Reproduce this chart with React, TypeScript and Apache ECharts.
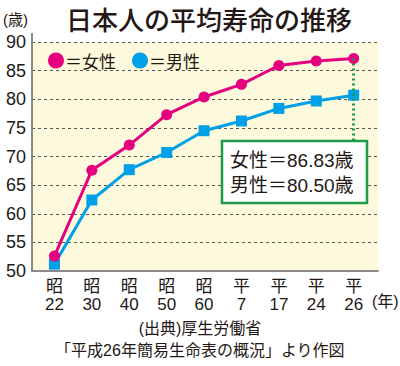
import React, { useEffect, useRef } from "react";
import * as echarts from "echarts";

const eraLabels = ["昭", "昭", "昭", "昭", "昭", "平", "平", "平", "平"];
const yearLabels = ["22", "30", "40", "50", "60", "7", "17", "24", "26"];
const femaleValues = [52.6, 67.6, 72.0, 77.3, 80.4, 82.6, 85.9, 86.7, 87.1];
const maleValues = [51.2, 62.4, 67.7, 70.7, 74.5, 76.2, 78.4, 79.7, 80.7];
const yTicks = [50, 55, 60, 65, 70, 75, 80, 85, 90];
const femaleName = "女性";
const maleName = "男性";
const boxLines = ["女性＝86.83歳", "男性＝80.50歳"];
const titleText = "日本人の平均寿命の推移";
const sourceLines = ["(出典)厚生労働省", "「平成26年簡易生命表の概況」より作図"];

const JP = "'Noto Sans CJK JP', sans-serif";
const FONT = "'Liberation Sans', 'Noto Sans CJK JP', sans-serif";
const PINK = "#e4007f";
const BLUE = "#00a0e9";
const GREEN = "#1e9b47";
const TEXT = "#231815";

export default function App() {
  const ref = useRef<HTMLDivElement>(null);
  useEffect(() => {
    if (!ref.current) return;
    const chart = echarts.init(ref.current, undefined, { renderer: "svg" });
    const idx = yearLabels.map((_, i) => i);
    chart.setOption({
      animation: false,
      textStyle: { fontFamily: FONT, color: TEXT },
      title: {
        text: titleText,
        left: 61,
        top: 0,
        textStyle: { fontFamily: JP, fontSize: 26, fontWeight: 500, color: TEXT },
      },
      legend: {
        left: 43,
        top: 47,
        icon: "circle",
        itemWidth: 16,
        itemHeight: 16,
        itemGap: 16,
        formatter: (n: string) => "＝" + n,
        textStyle: { fontFamily: JP, fontSize: 17, color: TEXT, padding: [0, 0, 0, -4] },
        data: [femaleName, maleName],
      },
      grid: {
        left: 32,
        right: 22,
        top: 42,
        bottom: 95,
        show: true,
        backgroundColor: "#fdf9dc",
        borderWidth: 0,
      },
      xAxis: {
        type: "value",
        min: -0.6,
        max: 8.65,
        splitLine: { show: false },
        axisTick: { show: false },
        axisLine: { show: true, onZero: false, lineStyle: { color: "#8a8a8a", width: 2 } },
        axisLabel: {
          customValues: idx,
          margin: 6,
          fontFamily: FONT,
          fontSize: 17,
          lineHeight: 18,
          color: TEXT,
          formatter: (v: number) => {
            const i = Math.round(v);
            return eraLabels[i] + "\n" + yearLabels[i];
          },
        },
      },
      yAxis: {
        type: "value",
        min: yTicks[0],
        max: yTicks[yTicks.length - 1],
        interval: 5,
        axisLine: { show: true, onZero: false, lineStyle: { color: "#8a8a8a", width: 2 } },
        axisTick: { show: false },
        axisLabel: { fontFamily: FONT, fontSize: 18, color: TEXT, margin: 6 },
        splitLine: { show: true, lineStyle: { color: "#555", type: [3, 3], width: 1.2 } },
      },
      series: [
        {
          name: maleName,
          type: "line",
          data: maleValues.map((v, i) => [i, v]),
          symbol: "rect",
          symbolSize: 11,
          itemStyle: { color: BLUE },
          lineStyle: { color: BLUE, width: 3 },
          z: 3,
        },
        {
          name: femaleName,
          type: "line",
          data: femaleValues.map((v, i) => [i, v]),
          symbol: "circle",
          symbolSize: 11,
          itemStyle: { color: PINK },
          lineStyle: { color: PINK, width: 3 },
          z: 4,
          markLine: {
            silent: true,
            symbol: "none",
            label: { show: false },
            lineStyle: { color: GREEN, type: [2, 3], width: 3 },
            data: [
              [
                { coord: [8, femaleValues[8]] },
                { coord: [8, 72.7] },
              ],
            ],
          },
        },
      ],
      graphic: [
        {
          type: "line",
          shape: { x1: 32, y1: 33, x2: 32, y2: 42 },
          style: { stroke: "#8a8a8a", lineWidth: 2 },
        },
        {
          type: "text",
          left: 3,
          top: 12,
          style: { text: "(歳)", font: `15px ${FONT}`, fill: TEXT },
        },
        {
          type: "text",
          left: 372,
          top: 293,
          style: { text: "(年)", font: `16px ${FONT}`, fill: TEXT },
        },
        {
          type: "rect",
          shape: { x: 222, y: 141, width: 145, height: 62 },
          style: { fill: "#ffffff", stroke: GREEN, lineWidth: 2.5 },
          z: 10,
        },
        {
          type: "text",
          x: 230,
          y: 151,
          z: 11,
          style: { text: boxLines[0], font: `19px ${FONT}`, fill: TEXT },
        },
        {
          type: "text",
          x: 230,
          y: 176,
          z: 11,
          style: { text: boxLines[1], font: `19px ${FONT}`, fill: TEXT },
        },
        {
          type: "text",
          left: "center",
          top: 320,
          style: { text: sourceLines[0], font: `16px ${FONT}`, fill: TEXT },
        },
        {
          type: "text",
          left: "center",
          top: 342,
          style: { text: sourceLines[1], font: `16px ${FONT}`, fill: TEXT },
        },
      ],
    });
    return () => chart.dispose();
  }, []);
  return <div ref={ref} style={{ width: 400, height: 366, position: "absolute", left: 0, top: 0 }} />;
}
